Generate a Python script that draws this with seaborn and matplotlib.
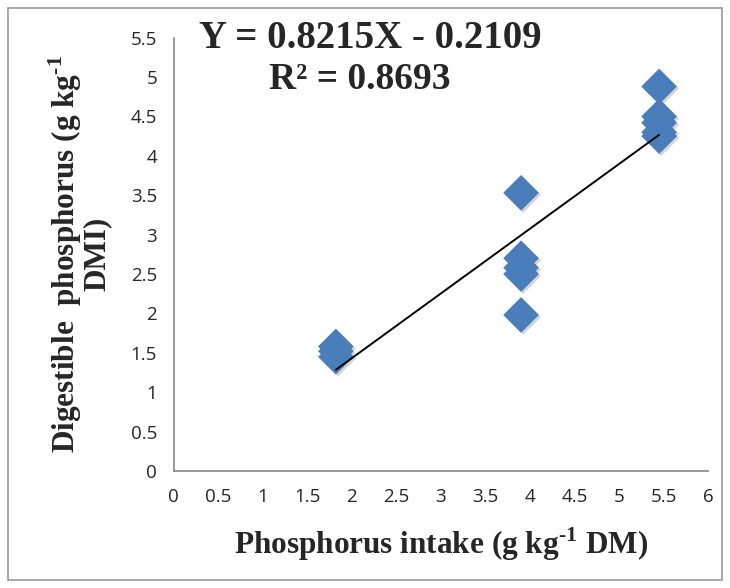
import numpy as np
import pandas as pd
import seaborn as sns
import matplotlib.pyplot as plt
import matplotlib.patheffects as pe
from matplotlib.patches import Rectangle

# values
intake = [1.82, 1.82, 1.82, 3.9, 3.9, 3.9, 3.9, 3.9, 5.45, 5.45, 5.45, 5.45, 5.45]
digestible = [1.45, 1.52, 1.58, 3.53, 2.70, 2.58, 2.50, 1.98, 4.88, 4.50, 4.42, 4.30, 4.25]
slope, intercept, r2 = 0.8215, -0.2109, 0.8693
x_ticks = np.arange(0, 6.01, 0.5)
y_ticks = np.arange(0, 5.51, 0.5)

df = pd.DataFrame({'intake': intake, 'digestible': digestible})

sns.set_style('white')
plt.rcParams['mathtext.fontset'] = 'custom'
plt.rcParams['mathtext.rm'] = 'Liberation Serif:bold'
plt.rcParams['mathtext.bf'] = 'Liberation Serif:bold'

fig = plt.figure(figsize=(7.3, 5.88), dpi=100)
ax = fig.add_axes([0.238, 0.199, 0.732, 0.737])

sns.scatterplot(data=df, x='intake', y='digestible', marker='D', s=330,
                color='#4a7ebb', edgecolor='none', ax=ax, zorder=3)
ax.collections[0].set_path_effects([
    pe.SimplePatchShadow(offset=(1.5, -1.5), shadow_rgbFace='#777777', alpha=0.3),
    pe.Normal()])

# trend line from the reported equation over the data range
xl = np.array([min(intake), max(intake)])
ax.plot(xl, slope * xl + intercept, color='black', lw=1.4, zorder=4)

ax.set_xlim(0, 6)
ax.set_ylim(0, 5.5)
ax.set_xticks(x_ticks)
ax.set_yticks(y_ticks)
ax.set_xticklabels([f'{v:g}' for v in x_ticks], fontfamily='Open Sans', fontsize=13.5)
ax.set_yticklabels([f'{v:g}' for v in y_ticks], fontfamily='Open Sans', fontsize=13.5)
ax.tick_params(axis='both', length=6, width=1.2, color='#888888', direction='out', pad=6)
for s in ['top', 'right']:
    ax.spines[s].set_visible(False)
for s in ['left', 'bottom']:
    ax.spines[s].set_color('#888888')
    ax.spines[s].set_linewidth(1.2)

ax.set_xlabel(r'Phosphorus intake (g kg$^{\text{-}1}$ DM)', fontfamily='Liberation Serif',
              fontweight='bold', fontsize=22.5, labelpad=14)
ax.set_ylabel('Digestible  phosphorus (g kg$^{\\text{-}1}$\nDMI)', fontfamily='Liberation Serif',
              fontweight='bold', fontsize=22.5, labelpad=14, linespacing=0.9)

fig.text(0.507, 0.935, f'Y = {slope}X - {abs(intercept)}', ha='center', va='center',
         fontfamily='Liberation Serif', fontweight='bold', fontsize=28)
fig.text(0.493, 0.864, f'R² = {r2}', ha='center', va='center',
         fontfamily='Liberation Serif', fontweight='bold', fontsize=27)

fig.patches.append(Rectangle((0.011, 0.013), 0.978, 0.974, transform=fig.transFigure,
                             fill=False, edgecolor='#999999', lw=1.2))

fig.savefig('out.png', dpi=100)
